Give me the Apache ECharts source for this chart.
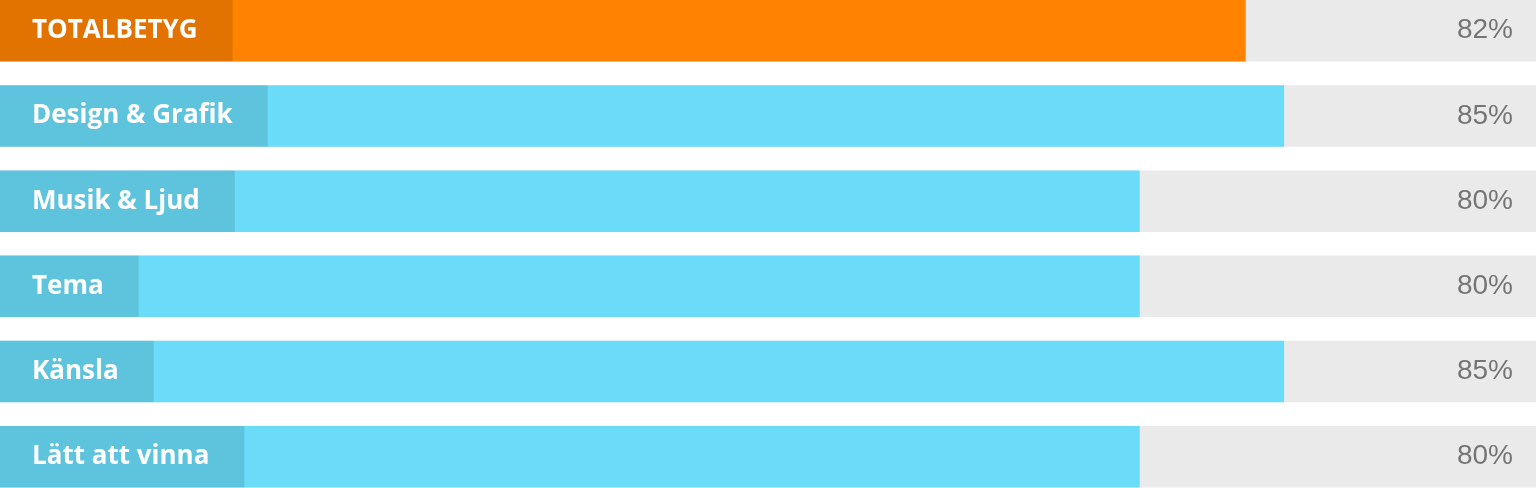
<!DOCTYPE html>
<html>
<head>
<meta charset="utf-8">
<script src="https://cdn.jsdelivr.net/npm/echarts@6/dist/echarts.min.js"></script>
<style>
html,body{margin:0;padding:0;background:#fff;}
#chart{width:1536px;height:488px;}
</style>
</head>
<body>
<div id="chart"></div>
<script>
// Data
var categories = ['TOTALBETYG', 'Design & Grafik', 'Musik & Ljud', 'Tema', 'Känsla', 'Lätt att vinna'];
// displayed scores
var scoreLabels = ['82%', '85%', '80%', '80%', '85%', '80%'];
// drawn length of each bar, as share of the full track (%)
var barFill = [81.1, 83.6, 74.2, 74.2, 83.6, 74.2];
var trackFull = [100, 100, 100, 100, 100, 100];

var ORANGE = '#FF8200';
var BLUE = '#6ADBF8';
var TRACK = '#EAEAEA';

var chart = echarts.init(document.getElementById('chart'), null, {renderer: 'canvas'});

var option = {
  animation: false,
  grid: {left: 0, right: 0, top: -11.85, height: 511.2, containLabel: false, outerBoundsMode: 'none'},
  xAxis: {type: 'value', min: 0, max: 100, show: false},
  yAxis: {type: 'category', data: categories, inverse: true, show: false},
  series: [
    {
      type: 'bar',
      data: trackFull,
      barWidth: 61.5,
      barGap: '-100%',
      silent: true,
      itemStyle: {color: TRACK},
      label: {
        show: true,
        position: 'insideRight',
        distance: 23,
        formatter: function (p) { return scoreLabels[p.dataIndex]; },
        color: '#757575',
        fontFamily: '"Liberation Sans", Arial, sans-serif',
        fontSize: 28,
        fontWeight: 'normal'
      },
      z: 1
    },
    {
      type: 'bar',
      data: barFill.map(function (v, i) {
        return {value: v, itemStyle: {color: i === 0 ? ORANGE : BLUE}};
      }),
      barWidth: 61.5,
      barGap: '-100%',
      silent: true,
      label: {
        show: true,
        position: 'insideLeft',
        distance: 0,
        formatter: function (p) { return categories[p.dataIndex]; },
        color: '#ffffff',
        fontFamily: '"Open Sans", "Noto Sans", sans-serif',
        fontSize: 26,
        fontWeight: 'bold',
        backgroundColor: 'rgba(0,0,0,0.11)',
        padding: [0, 35, 0, 32],
        height: 61.5,
        lineHeight: 61.5
      },
      z: 2
    }
  ]
};
chart.setOption(option);
</script>
</body>
</html>
